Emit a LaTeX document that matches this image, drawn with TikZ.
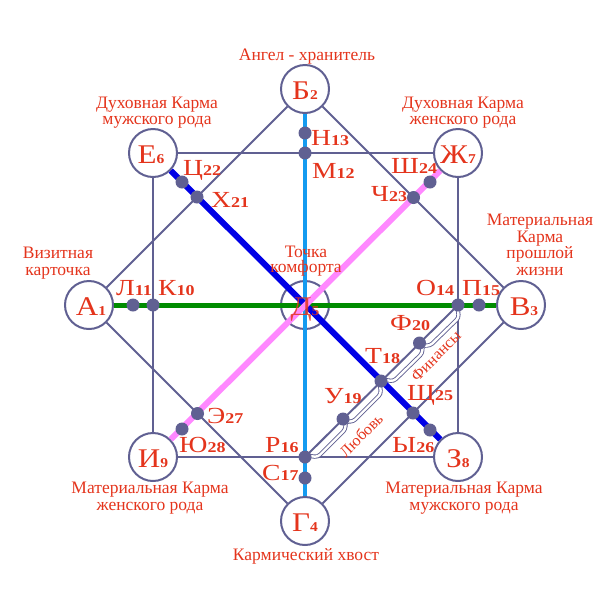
\documentclass[tikz,border=0pt]{standalone}
\usepackage{fontspec}
\setmainfont{Liberation Serif}
\definecolor{ln}{RGB}{96,96,146}
\definecolor{rd}{RGB}{228,52,28}
\definecolor{gr}{RGB}{0,140,0}
\definecolor{lb}{RGB}{20,155,240}
\definecolor{bl}{RGB}{0,0,230}
\definecolor{pk}{RGB}{255,136,255}
\newcommand{\bigletter}[2]{\scalebox{1.15}[1]{{\fontsize{27}{27}\selectfont #1}{\fontsize{13.5}{13.5}\selectfont\bfseries #2}}}
\newcommand{\dotletter}[2]{\scalebox{1.2}[1]{{\fontsize{23}{23}\selectfont #1}{\fontsize{15}{15}\selectfont\bfseries #2}}}
\begin{document}
\begin{tikzpicture}[x=1pt,y=-1pt,
  big/.style={circle,draw=ln,line width=2pt,fill=white,minimum size=48pt,inner sep=0pt},
  dotn/.style={circle,fill=ln,minimum size=13pt,inner sep=0pt},
  gline/.style={draw=ln,line width=2pt},
  bigl/.style={text=rd,anchor=base,inner sep=0pt},
  dotl/.style={text=rd,anchor=base west,inner sep=0pt},
  captxt/.style={text=rd,anchor=base,inner sep=0pt,font=\fontsize{17.5}{17.5}\selectfont},
  brc/.style={draw=ln,line width=0.9pt,double=white,double distance=2.4pt,rounded corners=3pt},
  rlab/.style={text=rd,inner sep=0pt,rotate=45,font=\fontsize{16}{16}\selectfont}
]
\useasboundingbox (0,0) rectangle (610,606);
% big circles
\node[big] (nA) at (89,305) {};
\node[big] (nB) at (305,89) {};
\node[big] (nV) at (521,305) {};
\node[big] (nG) at (305,521) {};
\node[big,fill=none] (nD) at (305,305) {};
\node[big] (nE) at (153,153) {};
\node[big] (nZh) at (458,153) {};
\node[big] (nZ) at (458,457) {};
\node[big] (nI) at (153,457) {};
% dot positions
\coordinate (cL) at (133,305);
\coordinate (cK) at (153,305);
\coordinate (cH) at (305,133);
\coordinate (cM) at (305,153);
\coordinate (cO) at (458,305);
\coordinate (cP) at (479,305);
\coordinate (cR) at (305,457);
\coordinate (cS) at (305,478);
\coordinate (cT) at (381,381);
\coordinate (cU) at (343,419);
\coordinate (cF) at (419.5,343);
\coordinate (cX) at (197,197);
\coordinate (cC) at (182,182);
\coordinate (cCh) at (413.5,197.5);
\coordinate (cSh) at (430,182);
\coordinate (cSch) at (413,413);
\coordinate (cY) at (430,430);
\coordinate (cEe) at (197.5,413.5);
\coordinate (cYu) at (182,429);
% diamond
\draw[gline] (nA) -- (nB);
\draw[gline] (nB) -- (nV);
\draw[gline] (nV) -- (nG);
\draw[gline] (nG) -- (nA);
% square
\draw[gline] (nE) -- (nZh);
\draw[gline] (nZh) -- (nZ);
\draw[gline] (nZ) -- (nI);
\draw[gline] (nI) -- (nE);
% R--O line
\draw[gline] (cR) -- (cO);
% braces
\begin{scope}[shift={(cR)},rotate=45]
  \draw[brc] (2,0) -- (9,9) -- (48.2,9) -- (53.7,3.5) -- (59.2,9) -- (98.5,9) -- (105.5,0);
\end{scope}
\begin{scope}[shift={(cT)},rotate=44.3]
  \draw[brc] (2,0) -- (9,9) -- (48.9,9) -- (54.4,3.5) -- (59.9,9) -- (99.9,9) -- (106.9,0);
\end{scope}
\node[rlab] (tLove) at (361,435) {Любовь};
\node[rlab] (tFin) at (436,356) {Финансы};
% thick lines
\draw[draw=gr,line width=5pt] (nA) -- (nV);
\draw[draw=lb,line width=4pt] (nB) -- (nG);
\draw[draw=bl,line width=6pt] (nE) -- (nZ);
\draw[draw=pk,line width=6pt] (nI) -- (nZh);
% centre label
\node[bigl,text opacity=0.85] (lD) at (305,315) {\bigletter{Д}{5}};
% dots
\foreach \c in {cL,cK,cH,cM,cO,cP,cR,cS,cT,cU,cF,cX,cC,cCh,cSh,cSch,cY,cEe,cYu}
  \node[dotn] (d\c) at (\c) {};
% big labels
\node[bigl] (lA) at (91,315) {\bigletter{А}{1}};
\node[bigl] (lB) at (305,99) {\bigletter{Б}{2}};
\node[bigl] (lV) at (524,315) {\bigletter{В}{3}};
\node[bigl] (lG) at (305,531) {\bigletter{Г}{4}};
\node[bigl] (lE) at (151,163) {\bigletter{Е}{6}};
\node[bigl] (lZh) at (458,163) {\bigletter{Ж}{7}};
\node[bigl] (lZ) at (458,467) {\bigletter{З}{8}};
\node[bigl] (lI) at (153,467) {\bigletter{И}{9}};
% dot labels
\node[dotl] (tK) at (158,295) {\dotletter{К}{10}};
\node[dotl] (tL) at (116,295) {\dotletter{Л}{11}};
\node[dotl] (tM) at (312,178) {\dotletter{М}{12}};
\node[dotl] (tH) at (311,145) {\dotletter{Н}{13}};
\node[dotl] (tO) at (416,295) {\dotletter{О}{14}};
\node[dotl] (tP) at (462,295) {\dotletter{П}{15}};
\node[dotl] (tR) at (265,452) {\dotletter{Р}{16}};
\node[dotl] (tS) at (262,480) {\dotletter{С}{17}};
\node[dotl] (tT) at (365,363) {\dotletter{Т}{18}};
\node[dotl] (tU) at (324,403) {\dotletter{У}{19}};
\node[dotl] (tF) at (390,330) {\dotletter{Ф}{20}};
\node[dotl] (tX) at (211,207) {\dotletter{Х}{21}};
\node[dotl] (tC) at (183,175) {\dotletter{Ц}{22}};
\node[dotl] (tCh) at (371,201) {\dotletter{Ч}{23}};
\node[dotl] (tSh) at (391,173) {\dotletter{Ш}{24}};
\node[dotl] (tSch) at (407,400) {\dotletter{Щ}{25}};
\node[dotl] (tY) at (392,452) {\dotletter{Ы}{26}};
\node[dotl] (tEe) at (207,423) {\dotletter{Э}{27}};
\node[dotl] (tYu) at (179,452) {\dotletter{Ю}{28}};
% captions
\node[captxt] (c1) at (307,60) {Ангел - хранитель};
\node[captxt] (c2a) at (157,108) {Духовная Карма};
\node[captxt] (c2b) at (157,124) {мужского рода};
\node[captxt] (c3a) at (463,108) {Духовная Карма};
\node[captxt] (c3b) at (463,124) {женского рода};
\node[captxt] (c4a) at (58,258) {Визитная};
\node[captxt] (c4b) at (58,275) {карточка};
\node[captxt] (c5a) at (540,225) {Материальная};
\node[captxt] (c5b) at (540,242) {Карма};
\node[captxt] (c5c) at (540,258) {прошлой};
\node[captxt] (c5d) at (540,275) {жизни};
\node[captxt] (c6a) at (306,257) {Точка};
\node[captxt] (c6b) at (306,272) {комфорта};
\node[captxt] (c7a) at (150,493) {Материальная Карма};
\node[captxt] (c7b) at (150,510) {женского рода};
\node[captxt] (c8a) at (464,493) {Материальная Карма};
\node[captxt] (c8b) at (464,510) {мужского рода};
\node[captxt] (c9) at (306,560) {Кармический хвост};
\end{tikzpicture}
\end{document}
